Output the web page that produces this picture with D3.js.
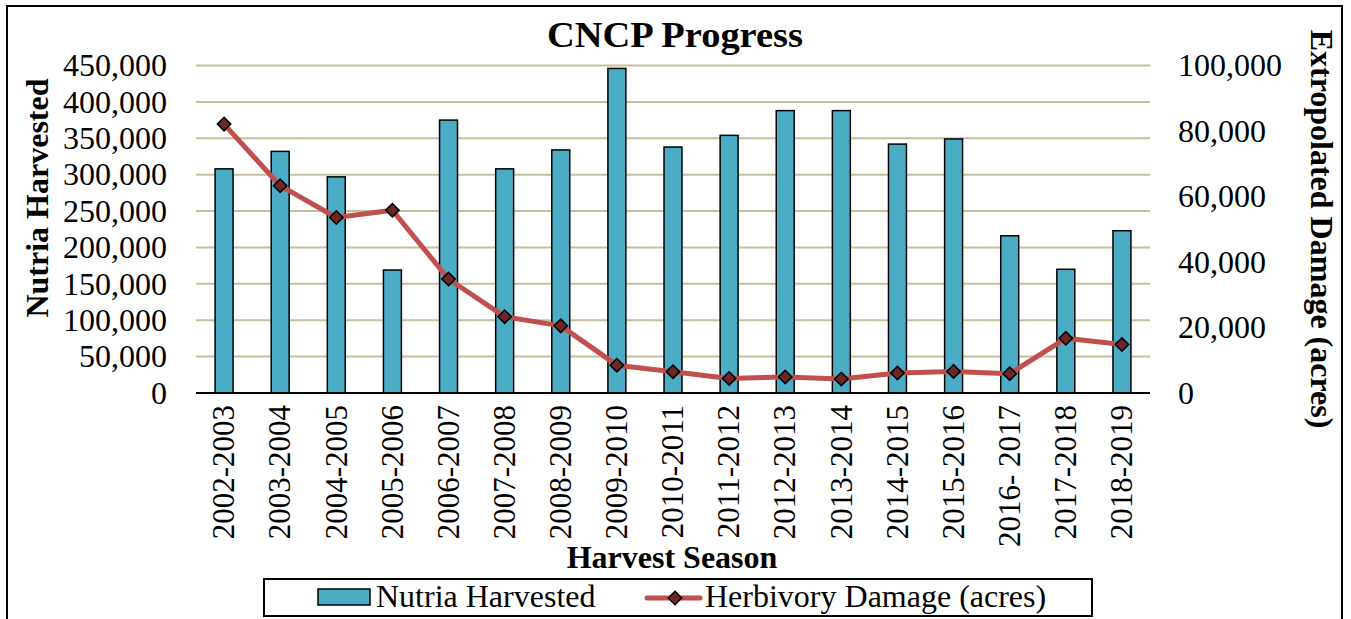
<!DOCTYPE html>
<html>
<script src='https://d3js.org/d3.v7.min.js'></script>
<style>
body { margin: 0; background: white; }
text { font-family: "Liberation Serif", "Times New Roman", Times, serif; fill: black; }
</style>
<body>
<svg width=1351 height=619></svg>
<script>

// harvest seasons on the x axis
var seasons = ["2002-2003","2003-2004","2004-2005","2005-2006","2006-2007","2007-2008",
  "2008-2009","2009-2010","2010-2011","2011-2012","2012-2013","2013-2014","2014-2015",
  "2015-2016","2016- 2017","2017-2018","2018-2019"];

// nutria harvested (left axis)
var nutria = [308000,332000,297000,169000,375000,308000,334000,446000,338000,
  354000,388000,388000,342000,349000,216000,170000,223000];

// herbivory damage in acres (right axis)
var damage = [82100,63300,53600,55800,34800,23300,20500,8500,6500,
  4450,4900,4300,6100,6600,5900,16700,14800];

var leftTicks = [0,50000,100000,150000,200000,250000,300000,350000,400000,450000];
var rightTicks = [0,20000,40000,60000,80000,100000];

var plotL = 196, plotR = 1150, plotT = 65.5, plotB = 393;
var serif = '"Liberation Serif", "Times New Roman", Times, serif';
var svg = d3.select("svg");

// outer frame
svg.append("rect")
  .attr("x", 7).attr("y", 6)
  .attr("width", 1335).attr("height", 640)
  .attr("fill", "none").attr("stroke", "black").attr("stroke-width", 2);

var x = d3.scaleBand().domain(seasons).range([plotL, plotR]).padding(0);
var y = d3.scaleLinear().domain([0, 450000]).range([plotB, plotT]);
var y2 = d3.scaleLinear().domain([0, 100000]).range([plotB, plotT]);
var fmt = d3.format(",");

// gridlines
svg.append("g").selectAll("line").data(leftTicks.slice(1)).enter().append("line")
  .attr("x1", plotL).attr("x2", plotR)
  .attr("y1", d => y(d)).attr("y2", d => y(d))
  .attr("stroke", "#c6bf9b").attr("stroke-width", 2);

// left axis labels
svg.append("g")
  .attr("transform", "translate(" + (plotL - 29) + ",0)")
  .call(d3.axisLeft(y).tickValues(leftTicks).tickFormat(fmt).tickSize(0).tickPadding(0))
  .call(g => g.select(".domain").remove())
  .attr("font-family", serif)
  .selectAll("text")
  .style("font-size", "32px").attr("fill", "black");

// right axis labels
svg.append("g")
  .attr("transform", "translate(" + (plotR + 28) + ",0)")
  .call(d3.axisRight(y2).tickValues(rightTicks).tickFormat(fmt).tickSize(0).tickPadding(0))
  .call(g => g.select(".domain").remove())
  .attr("font-family", serif)
  .selectAll("text")
  .style("font-size", "32px").attr("fill", "black");

// bars
var bw = x.bandwidth() * 0.32;
svg.append("g").selectAll("rect").data(seasons).enter().append("rect")
  .attr("x", d => x(d) + x.bandwidth() / 2 - bw / 2)
  .attr("y", (d, i) => y(nutria[i]))
  .attr("width", bw)
  .attr("height", (d, i) => plotB - y(nutria[i]))
  .attr("fill", "#4bacc6")
  .attr("stroke", "black").attr("stroke-width", 1.5);

// baseline
svg.append("line")
  .attr("x1", plotL).attr("x2", plotR)
  .attr("y1", plotB).attr("y2", plotB)
  .attr("stroke", "black").attr("stroke-width", 2);

// x labels
svg.append("g")
  .attr("transform", "translate(0," + plotB + ")")
  .call(d3.axisBottom(x).tickSize(0).tickPadding(0))
  .call(g => g.select(".domain").remove())
  .attr("font-family", serif)
  .selectAll("text")
  .attr("transform", "rotate(-90)")
  .attr("x", -12).attr("y", 0).attr("dy", ".33em")
  .style("text-anchor", "end")
  .style("font-size", "31px").attr("fill", "black");

// damage line
var line = d3.line()
  .x((d, i) => x(seasons[i]) + x.bandwidth() / 2)
  .y(d => y2(d));

svg.append("path").datum(damage)
  .attr("d", line)
  .attr("fill", "none")
  .attr("stroke", "#c0504d").attr("stroke-width", 5)
  .attr("stroke-linejoin", "round");

var diamond = d3.symbol().type(d3.symbolSquare).size(90);
svg.append("g").selectAll("path").data(damage).enter().append("path")
  .attr("d", diamond)
  .attr("transform", (d, i) => "translate(" + (x(seasons[i]) + x.bandwidth() / 2) + "," + y2(d) + ") rotate(45)")
  .attr("fill", "#6b2727").attr("stroke", "black").attr("stroke-width", 1.5);

// titles
svg.append("text")
  .attr("x", 675).attr("y", 47)
  .attr("text-anchor", "middle")
  .attr("font-weight", "bold")
  .style("font-size", "36px")
  .attr("textLength", 256).attr("lengthAdjust", "spacingAndGlyphs")
  .text("CNCP Progress");

svg.append("text")
  .attr("transform", "translate(48,198) rotate(-90)")
  .attr("text-anchor", "middle")
  .attr("font-weight", "bold")
  .style("font-size", "32px")
  .text("Nutria Harvested");

svg.append("text")
  .attr("transform", "translate(1311,229) rotate(90)")
  .attr("text-anchor", "middle")
  .attr("font-weight", "bold")
  .style("font-size", "32px")
  .text("Extropolated Damage (acres)");

svg.append("text")
  .attr("x", 672).attr("y", 568)
  .attr("text-anchor", "middle")
  .attr("font-weight", "bold")
  .style("font-size", "32px")
  .text("Harvest Season");

// legend
var lg = svg.append("g");
lg.append("rect")
  .attr("x", 264).attr("y", 579).attr("width", 828).attr("height", 37)
  .attr("fill", "white").attr("stroke", "black").attr("stroke-width", 2);
lg.append("rect")
  .attr("x", 318).attr("y", 589).attr("width", 52).attr("height", 16)
  .attr("fill", "#4bacc6").attr("stroke", "black").attr("stroke-width", 1.5);
lg.append("text")
  .attr("x", 376).attr("y", 607)
  .style("font-size", "32px")
  .text("Nutria Harvested");
lg.append("line")
  .attr("x1", 647).attr("x2", 700).attr("y1", 598).attr("y2", 598)
  .attr("stroke", "#c0504d").attr("stroke-width", 5).attr("stroke-linecap", "round");
lg.append("path")
  .attr("d", diamond)
  .attr("transform", "translate(675,598) rotate(45)")
  .attr("fill", "#6b2727").attr("stroke", "black").attr("stroke-width", 1.5);
lg.append("text")
  .attr("x", 705).attr("y", 607)
  .style("font-size", "32px")
  .text("Herbivory Damage (acres)");

</script>
</body>
</html>
